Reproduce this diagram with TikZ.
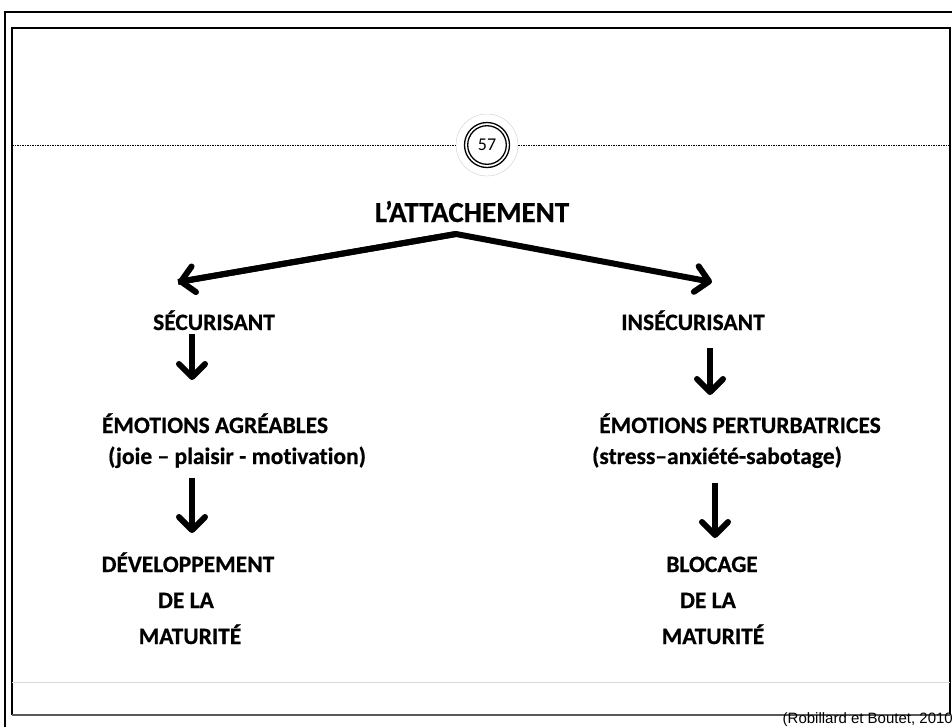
\documentclass[tikz,border=0pt]{standalone}
\usepackage{fontspec}
\setmainfont{Carlito}[BoldFont={Carlito Bold}, BoldFeatures={FakeBold=0.6}, Ligatures=NoCommon]
\newfontfamily\arialfont{Liberation Sans}
\usetikzlibrary{
  arrows.meta,
}

\begin{document}
\begin{tikzpicture}[x=1pt, y=-1pt,
  lbl/.style={font=\bfseries\fontsize{23.5}{28}\selectfont, inner sep=0pt, anchor=base},
  fleche/.style={line width=6pt, -{Straight Barb[length=13pt, width=26pt, line width=6pt, round]}},
]
\useasboundingbox (0,0) rectangle (952,726);
\draw[line width=2.5pt] (5,800) -- (5,12) -- (1000,12);
\draw[line width=1.4pt] (12,715) -- (12,28) -- (950,28) -- (950,715);
\draw[line width=2pt, black!65] (12,715) -- (950,715);
\draw[line width=0.8pt, black!15] (12,682) -- (950,682);

\node[circle, draw=black!20, line width=0.4pt, minimum size=62pt, inner sep=0pt,
  font=\fontsize{18}{20}\selectfont] (num) at (487,145) {57};
\draw[line width=1.3pt] (num.center) circle[radius=22.5pt] (num.center) circle[radius=19.3pt];
\draw[line width=0.8pt, dash pattern=on 1.6pt off 0.9pt] (12,145) -- (num.west);
\draw[line width=0.8pt, dash pattern=on 1.6pt off 0.9pt] (num.east) -- (950,145);

\node[lbl, font=\bfseries\fontsize{29}{32}\selectfont] (titre) at (472,222) {L’ATTACHEMENT};
\node[lbl] (secur) at (214,330) {SÉCURISANT};
\node[lbl] (insecur) at (693,330) {INSÉCURISANT};
\node[lbl] (emoG) at (215,433) {ÉMOTIONS AGRÉABLES};
\node[lbl] (emoD) at (740,433) {ÉMOTIONS PERTURBATRICES};
\node[lbl] (parG) at (237,464) {(joie – plaisir - motivation)};
\node[lbl] (parD) at (717,464) {(stress–anxiété-sabotage)};
\node[lbl] (devG) at (188,572) {DÉVELOPPEMENT};
\node[lbl] (deG) at (186,608) {DE LA};
\node[lbl] (matG) at (190,644) {MATURITÉ};
\node[lbl] (blocD) at (712,572) {BLOCAGE};
\node[lbl] (deD) at (708,608) {DE LA};
\node[lbl] (matD) at (713,644) {MATURITÉ};
\node[inner sep=0pt, anchor=base east, font=\arialfont\fontsize{15}{17}\selectfont]
  (source) at (953,723) {(Robillard et Boutet, 2010};

\coordinate (sommet) at (456,234);
\coordinate (pointeG) at (178,282);
\coordinate (pointeD) at (712,282);
\coordinate (hG1) at (192,334);
\coordinate (bG1) at (192,380);
\coordinate (hD1) at (710,348);
\coordinate (bD1) at (710,395);
\coordinate (hG2) at (192,478);
\coordinate (bG2) at (192,533);
\coordinate (hD2) at (715,483);
\coordinate (bD2) at (715,538);

\draw[fleche, line join=round] (pointeG) -- (sommet) -- (pointeD);
\draw[fleche] (sommet) -- (pointeG);
\foreach \a/\b in {hG1/bG1, hD1/bD1, hG2/bG2, hD2/bD2}
  \draw[fleche] (\a) -- (\b);
\end{tikzpicture}
\end{document}
